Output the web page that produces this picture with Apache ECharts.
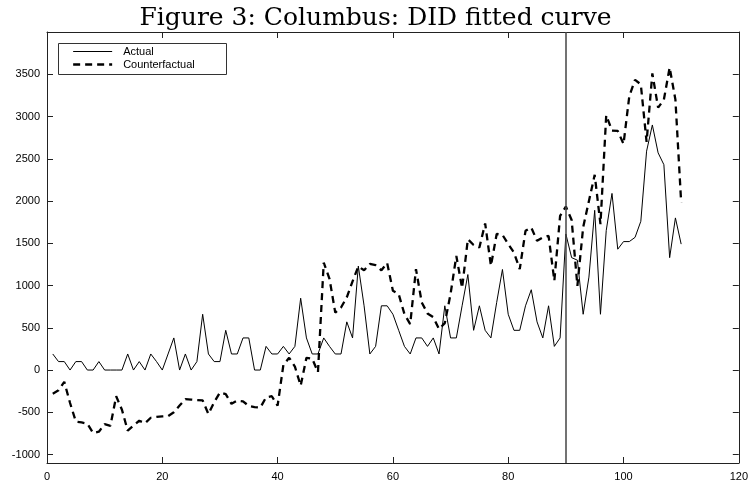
<!DOCTYPE html>
<html>
<head>
<meta charset="utf-8">
<script src="https://cdn.jsdelivr.net/npm/echarts@6/dist/echarts.min.js"></script>
<style>
html,body{margin:0;padding:0;background:#fff;}
#chart{width:751px;height:485px;}
</style>
</head>
<body>
<div id="chart"></div>
<script>
const titleText = 'Figure 3: Columbus: DID fitted curve';
const seriesNames = ['Actual', 'Counterfactual'];
const treatmentPeriod = 90;
const xTicks = [0, 20, 40, 60, 80, 100, 120];
const yTicks = [-1000, -500, 0, 500, 1000, 1500, 2000, 2500, 3000, 3500];

const actual = [
  190, 100, 100, 0, 100, 100, 0, 0, 100, 0,
  0, 0, 0, 190, 0, 100, 0, 190, 100, 0,
  190, 380, 0, 190, 0, 100, 660, 190, 100, 100,
  470, 190, 190, 380, 380, 0, 0, 280, 190, 190,
  280, 190, 280, 850, 380, 190, 190, 380, 280, 190,
  190, 570, 380, 1230, 760, 190, 280, 760, 760, 660,
  470, 280, 190, 380, 380, 280, 380, 190, 760, 380,
  380, 760, 1130, 470, 760, 470, 380, 800, 1190, 660,
  470, 470, 760, 950, 570, 380, 760, 280, 380, 1610,
  1330, 1300, 660, 1100, 1890, 660, 1650, 2090, 1430, 1520,
  1520, 1570, 1760, 2590, 2900, 2570, 2430, 1330, 1800, 1490
];

const counterfactual = [
  -280, -240, -140, -390, -610, -620, -635, -745, -730, -640,
  -660, -310, -470, -717, -655, -600, -630, -565, -555, -548,
  -545, -500, -420, -345, -350, -355, -360, -520, -380, -265,
  -285, -400, -362, -370, -425, -440, -445, -323, -310, -421,
  60, 145, 40, -185, 145, 135, -25, 1270, 1080, 680,
  740, 860, 1050, 1225, 1180, 1255, 1240, 1180, 1268, 938,
  898, 662, 544, 1194, 800, 670, 625, 485, 555, 900,
  1350, 970, 1548, 1480, 1450, 1735, 1233, 1610, 1600, 1490,
  1390, 1194, 1647, 1686, 1529, 1568, 1588, 1056, 1824, 1935,
  1775, 997, 1690, 2000, 2310, 1726, 3015, 2833, 2829, 2675,
  3240, 3434, 3380, 2700, 3510, 3105, 3200, 3580, 3200, 1982
];

const periods = actual.map((_, i) => i + 1);
const pairs = arr => arr.map((v, i) => [periods[i], v]);

const chart = echarts.init(document.getElementById('chart'), null, {renderer: 'canvas'});
const axisFont = {fontFamily: 'Liberation Sans, Arial, sans-serif', fontSize: 11, color: '#000'};
const axLine = {show: true, onZero: false, lineStyle: {color: '#222', width: 1}};
const tick = {show: true, inside: true, length: 6, lineStyle: {color: '#222'}};

chart.setOption({
  animation: false,
  backgroundColor: '#fff',
  title: {
    text: titleText,
    left: 'center',
    top: 1,
    textStyle: {fontFamily: 'DejaVu Serif, Liberation Serif, serif', fontSize: 25, fontWeight: 'normal', color: '#000'}
  },
  grid: {left: 47, right: 8, top: 32, bottom: 22, containLabel: false},
  legend: {
    left: 72, top: 46, orient: 'vertical',
    itemWidth: 39, itemHeight: 11, itemGap: 2,
    padding: 0,
    itemStyle: {opacity: 0, borderWidth: 0},
    lineStyle: {opacity: 1},
    data: [
      {name: seriesNames[0], lineStyle: {width: 1}},
      {name: seriesNames[1], lineStyle: {width: 2.3}}
    ],
    textStyle: {fontFamily: 'Liberation Sans, Arial, sans-serif', fontSize: 11, color: '#000', padding: [0, 0, 0, 6]}
  },
  graphic: [{
    type: 'rect', left: 58, top: 43, z: 50,
    shape: {width: 168, height: 31},
    style: {fill: 'rgba(0,0,0,0)', stroke: '#333', lineWidth: 1}
  }],
  xAxis: [{
    type: 'value', min: xTicks[0], max: xTicks[xTicks.length - 1], interval: 20,
    axisLine: axLine,
    axisTick: tick,
    axisLabel: Object.assign({margin: 8, showMaxLabel: true}, axisFont),
    splitLine: {show: false}
  }, {
    type: 'value', position: 'top', min: xTicks[0], max: xTicks[xTicks.length - 1], interval: 20,
    axisLine: axLine,
    axisTick: tick,
    axisLabel: {show: false},
    splitLine: {show: false}
  }],
  yAxis: [{
    type: 'value', min: -1100, max: 4000,
    axisLine: axLine,
    axisTick: Object.assign({customValues: yTicks}, tick),
    axisLabel: Object.assign({margin: 7, customValues: yTicks, formatter: v => String(v)}, axisFont),
    splitLine: {show: false}
  }, {
    type: 'value', position: 'right', min: -1100, max: 4000,
    axisLine: axLine,
    axisTick: Object.assign({customValues: yTicks}, tick),
    axisLabel: {show: false, customValues: yTicks},
    splitLine: {show: false}
  }],
  series: [{
    name: seriesNames[0],
    type: 'line',
    data: pairs(actual),
    showSymbol: false, symbol: 'none',
    lineStyle: {color: '#000', width: 1},
    itemStyle: {color: '#000'},
    markLine: {
      silent: true, symbol: 'none', label: {show: false},
      lineStyle: {color: '#444', width: 1.5, type: 'solid'},
      data: [{xAxis: treatmentPeriod}]
    }
  }, {
    name: seriesNames[1],
    type: 'line',
    data: pairs(counterfactual),
    showSymbol: false, symbol: 'none',
    lineStyle: {color: '#000', width: 2.3, type: [7, 5]},
    itemStyle: {color: '#000'}
  }]
});
</script>
</body>
</html>
